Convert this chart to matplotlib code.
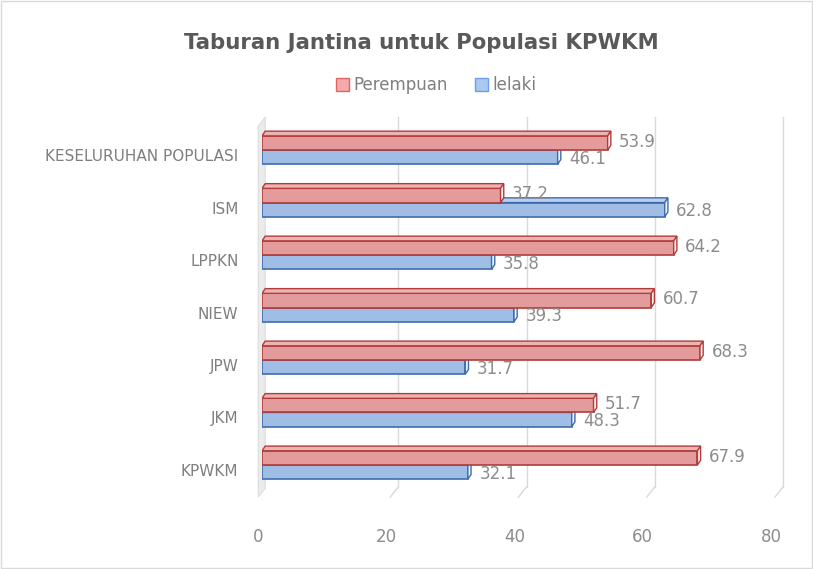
import matplotlib
matplotlib.use("Agg")
import matplotlib.pyplot as plt
from matplotlib.patches import Polygon, Rectangle, Patch
import matplotlib.transforms as mtransforms

categories = ["KPWKM", "JKM", "JPW", "NIEW", "LPPKN", "ISM", "KESELURUHAN POPULASI"]
perempuan = [67.9, 51.7, 68.3, 60.7, 64.2, 37.2, 53.9]
lelaki = [32.1, 48.3, 31.7, 39.3, 35.8, 62.8, 46.1]
series_names = ["Perempuan", "lelaki"]
xticks = [0, 20, 40, 60, 80]

plt.rcParams['font.family'] = ['DejaVu Sans']
TXT = "#7f7f7f"

W, H = 813, 569
fig = plt.figure(figsize=(W / 100, H / 100), dpi=100)
fig.patch.set_facecolor("white")
fig.patches.append(Rectangle((1 / W, 1 / H), 1 - 2 / W, 1 - 2 / H, transform=fig.transFigure,
                             fill=False, edgecolor="#d9d9d9", linewidth=1))

left_px, right_px, top_px, bot_px = 262, 775, 117, 497
ax = fig.add_axes([left_px / W, 1 - bot_px / H, (right_px - left_px) / W, (bot_px - top_px) / H])
ax.set_xlim(0, 80)
ax.set_ylim(-0.61, 6.63)
for s in ax.spines.values():
    s.set_visible(False)
ax.set_facecolor("none")

# back gridlines with 3D floor diagonals
back = mtransforms.ScaledTranslation(8 / 100, 0, fig.dpi_scale_trans)
blend = mtransforms.blended_transform_factory(ax.transData, ax.transAxes)
floor_y = (bot_px - 487) / (bot_px - top_px)
inv = fig.transFigure.inverted()
for xv in xticks[1:]:
    ax.plot([xv, xv], [floor_y, 1.0], transform=blend + back, color="#d9d9d9", lw=1, clip_on=False, zorder=0)
    p0 = (blend + back).transform((xv, floor_y))
    p1 = blend.transform((xv, 0.0))
    a, b = inv.transform(p0), inv.transform(p1)
    fig.add_artist(plt.Line2D([a[0], b[0]], [a[1], b[1]], transform=fig.transFigure, color="#d9d9d9", lw=1))

# left wall
wall = Polygon([(-0.6, -0.61), (0.5, -0.45), (0.5, 6.63), (-0.6, 6.45)], closed=True,
               facecolor="#ebebeb", edgecolor="#d6d6d6", lw=0.6, zorder=1, clip_on=False)
ax.add_patch(wall)

h = 0.27
dx, dy = 0.5, 0.09
styles = {
    "Perempuan": dict(face="#e49b9b", top="#ecb3b3", side="#fbeeee", edge="#b23b3b"),
    "lelaki": dict(face="#9fbde5", top="#b8cfed", side="#eef3fb", edge="#3e6cae"),
}


def draw_bar(v, y0, st):
    ax.add_patch(Rectangle((0, y0), v, h, facecolor=st["face"], edgecolor=st["edge"], lw=1.2, zorder=3))
    ax.add_patch(Polygon([(0, y0 + h), (v, y0 + h), (v + dx, y0 + h + dy), (dx, y0 + h + dy)],
                         closed=True, facecolor=st["top"], edgecolor=st["edge"], lw=1.0, zorder=3))
    ax.add_patch(Polygon([(v, y0), (v + dx, y0 + dy), (v + dx, y0 + h + dy), (v, y0 + h)],
                         closed=True, facecolor=st["side"], edgecolor=st["edge"], lw=1.0, zorder=3))


for i, (pv, lv) in enumerate(zip(perempuan, lelaki)):
    draw_bar(lv, i - h, styles["lelaki"])
    draw_bar(pv, i, styles["Perempuan"])
    ax.annotate(f"{pv:.1f}", (pv + dx, i + h / 2 + 0.02), xytext=(6, 0), textcoords="offset points",
                va="center", ha="left", fontsize=12, color="#8c8c8c", zorder=5)
    ax.annotate(f"{lv:.1f}", (lv + dx, i - h / 2 - 0.03), xytext=(6, 0), textcoords="offset points",
                va="center", ha="left", fontsize=12, color="#8c8c8c", zorder=5)

ax.set_yticks(range(len(categories)))
ax.set_yticklabels(categories, fontsize=11, color=TXT)
ax.tick_params(axis="y", length=0, pad=17)
for lab in ax.get_yticklabels():
    lab.set_transform(lab.get_transform() + mtransforms.ScaledTranslation(0, -5 / 100, fig.dpi_scale_trans))
ax.set_xticks(xticks)
ax.set_xticklabels([str(t) for t in xticks], fontsize=12, color="#8c8c8c")
ax.tick_params(axis="x", length=0, pad=22)
for lab in ax.get_xticklabels():
    lab.set_transform(lab.get_transform() + mtransforms.ScaledTranslation(-4 / 100, 0, fig.dpi_scale_trans))

fig.text(421 / W, 1 - 43 / H, "Taburan Jantina untuk Populasi KPWKM", ha="center", va="center",
         fontsize=15.3, fontweight="bold", color="#595959")

handles = [Patch(facecolor="#f4aaa8", edgecolor="#e06666", label=series_names[0]),
           Patch(facecolor="#a9c9f0", edgecolor="#6d9eeb", label=series_names[1])]
fig.legend(handles=handles, loc="center", bbox_to_anchor=(436 / W, 1 - 85 / H), ncol=2, frameon=False,
           fontsize=12, handlelength=0.8, handleheight=0.8, handletextpad=0.25, columnspacing=1.6,
           labelcolor=TXT)

fig.savefig("out.png", dpi=100)
